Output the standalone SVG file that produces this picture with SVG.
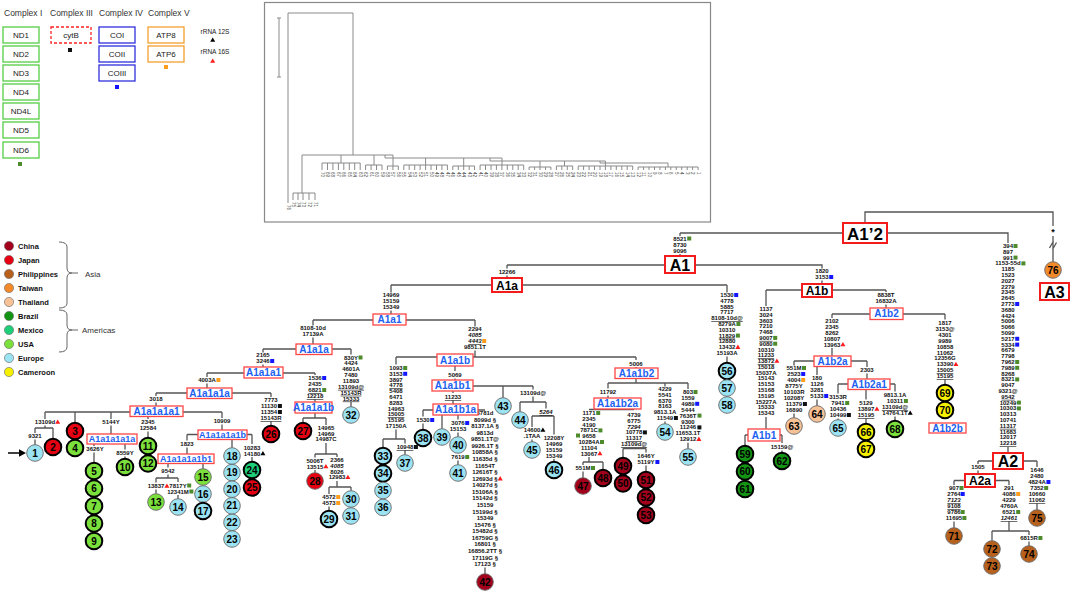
<svg xmlns="http://www.w3.org/2000/svg" width="1072" height="592" viewBox="0 0 1072 592">
<defs>
<style>
.ln{stroke:#555;stroke-width:1.3;fill:none}
.il{stroke:#8a8a8a;stroke-width:1;fill:none}
.m{font-family:"Liberation Sans",Arial,sans-serif;font-size:6px;font-weight:bold;fill:#111;text-anchor:middle}
.u{text-decoration:underline}
.i{font-style:italic}
.lb{fill:#fff;stroke:#ff4646;stroke-width:1.3}
.lt{font-family:"Liberation Sans",Arial,sans-serif;font-weight:bold;font-size:10px;fill:#2060f0;text-anchor:middle}
.lt9{font-family:"Liberation Sans",Arial,sans-serif;font-weight:bold;font-size:9px;fill:#2060f0;text-anchor:middle}
.hb{fill:#fff;stroke:#f21c1c;stroke-width:2}
.ht{font-family:"Liberation Sans",Arial,sans-serif;font-weight:bold;fill:#000;text-anchor:middle}
.c{stroke:#666;stroke-width:0.9}
.k{stroke:#000;stroke-width:2}
.cn{font-family:"Liberation Sans",Arial,sans-serif;font-weight:bold;font-size:10px;fill:#000;text-anchor:middle}
.lg{font-family:"Liberation Sans",Arial,sans-serif;font-size:8.5px;fill:#333}
.gb{font-family:"Liberation Sans",Arial,sans-serif;font-size:8px;fill:#222;text-anchor:middle}
.ct{font-family:"Liberation Sans",Arial,sans-serif;font-weight:bold;font-size:7.5px;fill:#111}
.ix{font-family:"Liberation Sans",Arial,sans-serif;font-size:4.5px;fill:#444}
.CN{fill:#a3001b}.JP{fill:#e60012}.PH{fill:#b8611c}.TW{fill:#f28a2a}.TH{fill:#f7c196}
.BR{fill:#149414}.MX{fill:#1ecf7a}.US{fill:#7ce03c}.EU{fill:#9be3f2}.CM{fill:#f5f000}
</style>
<rect id="q" width="4" height="4"/>
<path id="t" d="M0,-2.6L2.5,1.7H-2.5Z"/>
</defs>
<rect width="1072" height="592" fill="#fff"/>

<!-- legend: complexes -->
<g id="legend-complex">
<text class="lg" x="4" y="16">Complex I</text>
<text class="lg" x="50" y="16">Complex III</text>
<text class="lg" x="99" y="16">Complex IV</text>
<text class="lg" x="148" y="16">Complex V</text>
<g fill="#fff" stroke="#55cc44" stroke-width="1.3">
<rect x="3" y="27" width="36" height="16"/><rect x="3" y="46" width="36" height="16"/><rect x="3" y="65" width="36" height="16"/>
<rect x="3" y="84" width="36" height="16"/><rect x="3" y="103" width="36" height="16"/><rect x="3" y="122" width="36" height="16"/><rect x="3" y="142" width="36" height="16"/>
</g>
<text class="gb" x="21" y="38">ND1</text><text class="gb" x="21" y="57">ND2</text><text class="gb" x="21" y="76">ND3</text>
<text class="gb" x="21" y="95">ND4</text><text class="gb" x="21" y="114">ND4L</text><text class="gb" x="21" y="133">ND5</text><text class="gb" x="21" y="153">ND6</text>
<use href="#q" x="18" y="162" fill="#4f8a2b"/>
<rect x="51" y="27" width="40" height="16" fill="#fff" stroke="#f22" stroke-width="1.3" stroke-dasharray="3,2"/>
<text class="gb" x="71" y="38">cytB</text>
<use href="#q" x="68" y="48" fill="#111"/>
<g fill="#fff" stroke="#3030dd" stroke-width="1.3">
<rect x="99" y="27" width="36" height="16"/><rect x="99" y="46" width="36" height="16"/><rect x="99" y="65" width="36" height="16"/>
</g>
<text class="gb" x="117" y="38">COI</text><text class="gb" x="117" y="57">COII</text><text class="gb" x="117" y="76">COIII</text>
<use href="#q" x="115" y="85" fill="#1515ff"/>
<g fill="#fff" stroke="#f5a030" stroke-width="1.3">
<rect x="148" y="27" width="36" height="16"/><rect x="148" y="46" width="36" height="16"/>
</g>
<text class="gb" x="166" y="38">ATP8</text><text class="gb" x="166" y="57">ATP6</text>
<use href="#q" x="164" y="65" fill="#ff9d1c"/>
<text class="gb" x="215" y="34" style="font-size:6.5px">rRNA 12S</text>
<use href="#t" x="212.7" y="40" fill="#000"/>
<text class="gb" x="215" y="54" style="font-size:6.5px">rRNA 16S</text>
<use href="#t" x="212.7" y="61" fill="#ff1a1a"/>
</g>

<!-- legend: countries -->
<g id="legend-country">
<g stroke="#666" stroke-width="0.6">
<circle cx="9" cy="246" r="4.6" class="CN"/><circle cx="9" cy="260" r="4.6" class="JP"/><circle cx="9" cy="274" r="4.6" class="PH"/>
<circle cx="9" cy="288" r="4.6" class="TW"/><circle cx="9" cy="302" r="4.6" class="TH"/><circle cx="9" cy="316" r="4.6" class="BR"/>
<circle cx="9" cy="330" r="4.6" class="MX"/><circle cx="9" cy="344" r="4.6" class="US"/><circle cx="9" cy="358" r="4.6" class="EU"/>
<circle cx="9" cy="372" r="4.6" class="CM"/>
</g>
<text class="ct" x="18" y="248.7">China</text><text class="ct" x="18" y="262.7">Japan</text><text class="ct" x="18" y="276.7">Philippines</text>
<text class="ct" x="18" y="290.7">Taiwan</text><text class="ct" x="18" y="304.7">Thailand</text><text class="ct" x="18" y="318.7">Brazil</text>
<text class="ct" x="18" y="332.7">Mexico</text><text class="ct" x="18" y="346.7">USA</text><text class="ct" x="18" y="360.7">Europe</text>
<text class="ct" x="18" y="374.7">Cameroon</text>
<path d="M59,242Q67,242 67,247V268Q67,273 72,273Q67,273 67,278V303Q67,308 59,308M72,273H78" fill="none" stroke="#555" stroke-width="0.9"/>
<path d="M59,310Q67,310 67,315V325Q67,330 72,330Q67,330 67,335V347Q67,352 59,352M72,330H78" fill="none" stroke="#555" stroke-width="0.9"/>
<text class="lg" x="85" y="277" style="font-size:8px">Asia</text>
<text class="lg" x="82" y="333" style="font-size:8px">Americas</text>
</g>

<!-- inset tree -->
<g id="inset">
<rect x="264.5" y="2.5" width="446" height="219.5" fill="#fff" stroke="#888" stroke-width="1.2"/>
<path class="il" d="M279,18V77M277,18H281M277,77H281"/>
<path class="il" d="M288,203V13H353V155M302,155V193M293,193H315M293,193V200M298,193V200M303,193V200M309,193V200M315,193V200"/>
<path class="il" d="M302,155H393M385,155V158H502M490,158V161H605.4M600,161V163H668
M341,155V163M322,163H360.2M322,163V170M327.5,163V170M332.9,163V170M338.4,163V170M343.8,163V170M349.3,163V170M354.7,163V170M360.2,163V170
M374,155V165M365.6,165H382M365.6,165V170M371.1,165V170M376.5,165V170M382,165V170
M393,155V166M387.4,166H398.3M387.4,166V170M392.9,166V170M398.3,166V170
M425.6,158V165M403.8,165H447.4M403.8,165V170M409.2,165V170M414.7,165V170M420.1,165V170M425.6,165V170M431,165V170M436.5,165V170M441.9,165V170M447.4,165V170
M463.7,158V166M452.8,166H474.6M452.8,166V170M458.3,166V170M463.7,166V170M469.2,166V170M474.6,166V170
M502,158V165M480.1,165H523.7M480.1,165V170M485.5,165V170M491,165V170M496.4,165V170M501.9,165V170M507.3,165V170M512.8,165V170M518.2,165V170M523.7,165V170
M540,161V167M529.1,167H550.9M529.1,167V170M534.6,167V170M540,167V170M545.5,167V170M550.9,167V170
M564.5,161V166M556.4,166H572.7M556.4,166V170M561.8,166V170M567.3,166V170M572.7,166V170
M605.4,161V166M578.2,166H632.7M578.2,166V170M583.6,166V170M589.1,166V170M594.5,166V170M600,166V170M605.4,166V170M610.9,166V170M616.3,166V170M621.8,166V170M627.2,166V170M632.7,166V170
M668,163V167M638.1,167H698.1M638.1,167V170M643.6,167V170M649,167V170M654.5,167V170M659.9,167V170M665.4,167V170M670.8,167V170M676.3,167V170M681.7,167V170M687.2,167V170M692.6,167V170M698.1,167V170"/>
<g class="ix">
<text transform="translate(286.5,205) rotate(90)">76</text><text transform="translate(291.5,202) rotate(90)">75</text><text transform="translate(296.5,202) rotate(90)">74</text>
<text transform="translate(301.5,202) rotate(90)">73</text><text transform="translate(307.5,202) rotate(90)">72</text><text transform="translate(313.5,202) rotate(90)">71</text>
<text transform="translate(320.5,172) rotate(90)">70</text><text transform="translate(326,172) rotate(90)">69</text><text transform="translate(331.4,172) rotate(90)">68</text>
<text transform="translate(336.9,172) rotate(90)">67</text><text transform="translate(342.3,172) rotate(90)">66</text><text transform="translate(347.8,172) rotate(90)">65</text>
<text transform="translate(353.2,172) rotate(90)">64</text><text transform="translate(358.7,172) rotate(90)">63</text><text transform="translate(364.1,172) rotate(90)">62</text>
<text transform="translate(369.6,172) rotate(90)">61</text><text transform="translate(375,172) rotate(90)">60</text><text transform="translate(380.5,172) rotate(90)">59</text>
<text transform="translate(385.9,172) rotate(90)">58</text><text transform="translate(391.4,172) rotate(90)">57</text><text transform="translate(396.8,172) rotate(90)">56</text>
<text transform="translate(402.3,172) rotate(90)">55</text><text transform="translate(407.7,172) rotate(90)">54</text><text transform="translate(413.2,172) rotate(90)">53</text>
<text transform="translate(418.6,172) rotate(90)">52</text><text transform="translate(424.1,172) rotate(90)">51</text><text transform="translate(429.5,172) rotate(90)">50</text>
<text transform="translate(435,172) rotate(90)">49</text><text transform="translate(440.4,172) rotate(90)">48</text><text transform="translate(445.9,172) rotate(90)">47</text>
<text transform="translate(451.3,172) rotate(90)">46</text><text transform="translate(456.8,172) rotate(90)">45</text><text transform="translate(462.2,172) rotate(90)">44</text>
<text transform="translate(467.7,172) rotate(90)">43</text><text transform="translate(473.1,172) rotate(90)">42</text><text transform="translate(478.6,172) rotate(90)">41</text>
<text transform="translate(484,172) rotate(90)">40</text><text transform="translate(489.5,172) rotate(90)">39</text><text transform="translate(494.9,172) rotate(90)">38</text>
<text transform="translate(500.4,172) rotate(90)">37</text><text transform="translate(505.8,172) rotate(90)">36</text><text transform="translate(511.3,172) rotate(90)">35</text>
<text transform="translate(516.7,172) rotate(90)">34</text><text transform="translate(522.2,172) rotate(90)">33</text><text transform="translate(527.6,172) rotate(90)">32</text>
<text transform="translate(533.1,172) rotate(90)">31</text><text transform="translate(538.5,172) rotate(90)">30</text><text transform="translate(544,172) rotate(90)">29</text>
<text transform="translate(549.4,172) rotate(90)">28</text><text transform="translate(554.9,172) rotate(90)">27</text><text transform="translate(560.3,172) rotate(90)">26</text>
<text transform="translate(565.8,172) rotate(90)">25</text><text transform="translate(571.2,172) rotate(90)">24</text><text transform="translate(576.7,172) rotate(90)">23</text>
<text transform="translate(582.1,172) rotate(90)">22</text><text transform="translate(587.6,172) rotate(90)">21</text><text transform="translate(593,172) rotate(90)">20</text>
<text transform="translate(598.5,172) rotate(90)">19</text><text transform="translate(603.9,172) rotate(90)">18</text><text transform="translate(609.4,172) rotate(90)">17</text>
<text transform="translate(614.8,172) rotate(90)">16</text><text transform="translate(620.3,172) rotate(90)">15</text><text transform="translate(625.7,172) rotate(90)">14</text>
<text transform="translate(631.2,172) rotate(90)">13</text><text transform="translate(636.6,172) rotate(90)">12</text><text transform="translate(642.1,172) rotate(90)">11</text>
<text transform="translate(647.5,172) rotate(90)">10</text><text transform="translate(653,172) rotate(90)">9</text><text transform="translate(658.4,172) rotate(90)">8</text>
<text transform="translate(663.9,172) rotate(90)">7</text><text transform="translate(669.3,172) rotate(90)">6</text><text transform="translate(674.8,172) rotate(90)">5</text>
<text transform="translate(680.2,172) rotate(90)">4</text><text transform="translate(685.7,172) rotate(90)">3</text><text transform="translate(691.1,172) rotate(90)">2</text>
<text transform="translate(696.6,172) rotate(90)">1</text>
</g>
</g>

<!-- connectors -->
<g id="connectors" class="ln">
<path d="M865,223V212H1053V226M1053,236V261.7M1049.5,248L1053.5,241M1052.5,249.5L1056.5,242.5"/>
<path d="M680,233H843M887,233H1008V243M1008,447V453M680,233V236M680,254V256"/>
<path d="M507,265H665M507,265V268.5M507,275.5V278M695,265H822V268.5M822,280.5V284"/>
<path d="M766,290H886M766,290V306M766,417V429M886,290V292M886,304.5V308"/>
<path d="M832,314H945M832,314V318M832,348V356M945,314V319.5M945,379.5V384.7"/>
<path d="M794,361H867M794,361V365.5M794,413.5V417.7M817,366V375M817,399.5V405.7M867,361V367M867,373.5V379"/>
<path d="M838,384H895M838,384V393.5M838,418.5V419.7M866,389V399.5M866,418.5V423.7M895,384V391.5M895,416.5V420.7"/>
<path d="M745,435H782M745,435V445.7M782,435V443M782,450.5V452.7"/>
<path d="M978,461H1037M978,461V464M978,470.5V474M954,480.5H1009M954,480.5V485M954,521.5V527.7M1009,480.5V485M1009,521.5V531M992,531H1029M992,531V540.7M1029,531V535M1029,541.5V545.7M1037,461V467M1037,503.5V509.7"/>
<path d="M391,285H727M391,285V292.5M391,310.5V314M727,285V292.5M727,356.5V362.7"/>
<path d="M313,320H475M313,320V325.5M313,337.5V344M475,320V326.5M475,350.5V357"/>
<path d="M263,349H351M263,349V352.5M263,364.5V367M351,349V354.5M351,402V406.7"/>
<path d="M207,373H315M207,373V377M207,383.5V388M315,373V375M315,399.5V402"/>
<path d="M156,393H271M156,393V396M156,402.5V406M271,393V397M271,421.5V425.7"/>
<path d="M45,412H222M45,412V419M45,425.5V428M35,428H53M35,428V433M35,439.5V444.7M53,428V438.7M75,412V422.7M111,412V419M111,425.5V434M94,439H125M94,444V446M94,452.5V462.7M125,444V449.5M125,456.5V458.7M148,412V419M148,431.5V437.7M222,412V418M222,424.5V430"/>
<path d="M187,434.5H252M187,434.5V440.5M187,447.5V454M232,439V447.7M252,434.5V444M252,457V461.7"/>
<path d="M168,463V467.5M168,474.5V478M156,478H178M156,478V482.5M156,489.5V493.7M178,478V482M178,495V498.7M203,463V468.7"/>
<path d="M315,413V418M303,418H326M303,418V422.7M326,418V425M326,443V454M315,454H337M315,454V457.5M315,470V472.7M337,454V457M337,481V487M329,487H351M329,487V494M329,506.5V510.7M351,487V490.7"/>
<path d="M396,357H636M396,357V364.5M396,429.5V439M383,439H405M383,439V447.7M405,439V443.5M405,450.5V454.7M455,366V371M455,378.5V380M453,386H533M453,391V393M453,400.5V404M503,386V397.7M533,386V389.5M533,396.5V402M520,402H546M520,402V411.7M546,402V408.5M532,416H554M532,416V427M532,439.5V441.7M554,416V434.5M554,459V461.7"/>
<path d="M423,410H485M423,410V416.5M423,423.5V429.7M442,415V428.7M458,415V419.5M458,432.5V436.7M458,460.5V464.7M485,567.5V573.7"/>
<path d="M636,357V360M636,367V368M636,378V383M608,383H688M608,383V388.5M608,395.5V398M589,409.5H634M589,457V462M583,462H603M583,462V465M583,471.5V477.7M603,462V469.7M623,448.5H646M623,448.5V457.7M646,448.5V452.5M646,465.5V471.7M665,383V386.5M665,421.5V423.7M688,383V389M688,442.7V448.7"/>
<path d="M8,453H20" stroke="#000" stroke-width="1.5"/>
<path d="M26,453L19,449.3V456.7Z" fill="#000" stroke="none"/>
</g>

<!-- mutations -->
<g id="mutations">
<text class="m"><tspan x="680" y="240.5">8521</tspan><tspan x="680" y="246.5">8730</tspan><tspan x="680" y="252.5">9096</tspan></text>
<text class="m" x="507" y="274">12266</text>
<text class="m"><tspan x="822" y="273">1820</tspan><tspan x="822" y="279">3153</tspan></text>
<text class="m"><tspan x="766" y="311">1137</tspan><tspan x="766" y="316.8">3024</tspan><tspan x="766" y="322.6">3603</tspan><tspan x="766" y="328.3">7210</tspan><tspan x="766" y="334.1">7468</tspan><tspan x="766" y="339.9" class="u">9007</tspan><tspan x="766" y="345.7">9080</tspan><tspan x="766" y="351.5">10310</tspan><tspan x="766" y="357.2" class="u">11233</tspan><tspan x="766" y="363" class="u">13872</tspan><tspan x="766" y="368.8">15018</tspan><tspan x="766" y="374.6">15037A</tspan><tspan x="766" y="380.4">15143</tspan><tspan x="766" y="386.1">15153</tspan><tspan x="766" y="391.9">15168</tspan><tspan x="766" y="397.7">15195</tspan><tspan x="766" y="403.5">15227A</tspan><tspan x="766" y="409.3">15333</tspan><tspan x="766" y="415">15343</tspan></text>
<text class="m"><tspan x="886" y="297">8838T</tspan><tspan x="886" y="303">16832A</tspan></text>
<text class="m"><tspan x="832" y="322.5">2102</tspan><tspan x="832" y="328.5">2345</tspan><tspan x="832" y="334.5">8262</tspan><tspan x="832" y="340.5">10807</tspan><tspan x="832" y="346.5">13963</tspan></text>
<text class="m"><tspan x="794" y="370">551M</tspan><tspan x="794" y="376">2523</tspan><tspan x="794" y="382">4004</tspan><tspan x="794" y="388">8775Y</tspan><tspan x="794" y="394">10103R</tspan><tspan x="794" y="400">10208Y</tspan><tspan x="794" y="406">11379</tspan><tspan x="794" y="412">16890</tspan></text>
<text class="m"><tspan x="817" y="380">180</tspan><tspan x="817" y="386">1126</tspan><tspan x="817" y="392">3281</tspan><tspan x="817" y="398">5133</tspan></text>
<text class="m" x="867" y="372">2303</text>
<text class="m"><tspan x="838" y="399">3153R</tspan><tspan x="838" y="405">7941</tspan><tspan x="838" y="411">10436</tspan><tspan x="838" y="417">10499</tspan></text>
<text class="m"><tspan x="866" y="405">5129</tspan><tspan x="866" y="411">13897</tspan><tspan x="866" y="417" class="u">15195</tspan></text>
<text class="m"><tspan x="895" y="397">9813.1A</tspan><tspan x="895" y="403">10311</tspan><tspan x="895" y="409" class="u">13109d@</tspan><tspan x="895" y="415">14764.1T</tspan></text>
<text class="m"><tspan x="945" y="325">1817</tspan><tspan x="945" y="330.9">3153@</tspan><tspan x="945" y="336.8">4301</tspan><tspan x="945" y="342.7">9989</tspan><tspan x="945" y="348.6">10858</tspan><tspan x="945" y="354.5">11062</tspan><tspan x="945" y="360.4">12356G</tspan><tspan x="945" y="366.3">13390</tspan><tspan x="945" y="372.2" class="u">15005</tspan><tspan x="945" y="378.1" class="u">15195</tspan></text>
<text class="m"><tspan x="1008" y="248">394</tspan><tspan x="1008" y="253.8">897</tspan><tspan x="1008" y="259.6">991</tspan><tspan x="1008" y="265.4">1153-55d</tspan><tspan x="1008" y="271.2">1185</tspan><tspan x="1008" y="277">1523</tspan><tspan x="1008" y="282.8">2027</tspan><tspan x="1008" y="288.6">2279</tspan><tspan x="1008" y="294.4">2345</tspan><tspan x="1008" y="300.2">2645</tspan><tspan x="1008" y="306">2773</tspan><tspan x="1008" y="311.8">3680</tspan><tspan x="1008" y="317.6">4424</tspan><tspan x="1008" y="323.4">5006</tspan><tspan x="1008" y="329.2">5066</tspan><tspan x="1008" y="335">5099</tspan><tspan x="1008" y="340.8">5217</tspan><tspan x="1008" y="346.6">5334</tspan><tspan x="1008" y="352.4">6679</tspan><tspan x="1008" y="358.2">7798</tspan><tspan x="1008" y="364">7962</tspan><tspan x="1008" y="369.8">7989</tspan><tspan x="1008" y="375.6">8268</tspan><tspan x="1008" y="381.4">8321</tspan><tspan x="1008" y="387.2">9047</tspan><tspan x="1008" y="393">9321@</tspan><tspan x="1008" y="398.8" class="u">9542</tspan><tspan x="1008" y="404.6">10249</tspan><tspan x="1008" y="410.4">10303</tspan><tspan x="1008" y="416.2">10313</tspan><tspan x="1008" y="422">10741</tspan><tspan x="1008" y="427.8" class="u">11317</tspan><tspan x="1008" y="433.6">11683</tspan><tspan x="1008" y="439.4">12017</tspan><tspan x="1008" y="445.2" class="u">12218</tspan></text>
<text class="m" x="978" y="469">1505</text>
<text class="m"><tspan x="954" y="490">907</tspan><tspan x="954" y="496">2764</tspan><tspan x="954" y="502" class="i u">7123</tspan><tspan x="954" y="508" class="u">9108</tspan><tspan x="954" y="514">9786</tspan><tspan x="954" y="520">11695</tspan></text>
<text class="m"><tspan x="1009" y="490">291</tspan><tspan x="1009" y="496">4086</tspan><tspan x="1009" y="502">4229</tspan><tspan x="1009" y="508">4760A</tspan><tspan x="1009" y="514">6521</tspan><tspan x="1009" y="520" class="i u">12461</tspan></text>
<text class="m" x="1029" y="540">6815R</text>
<text class="m"><tspan x="1037" y="472">1646</tspan><tspan x="1037" y="478">2480</tspan><tspan x="1037" y="484">4824A</tspan><tspan x="1037" y="490">7352</tspan><tspan x="1037" y="496">10660</tspan><tspan x="1037" y="502" class="u">11062</tspan></text>
<text class="m" x="782" y="449">15159@</text>
<text class="m"><tspan x="391" y="297">14969</tspan><tspan x="391" y="303">15159</tspan><tspan x="391" y="309">15349</tspan></text>
<text class="m"><tspan x="727" y="297">1530</tspan><tspan x="727" y="302.8">4778</tspan><tspan x="727" y="308.6">5885</tspan><tspan x="727" y="314.4">7717</tspan><tspan x="727" y="320.2" class="u">8108-10d@</tspan><tspan x="727" y="326">8279A</tspan><tspan x="727" y="331.8">10310</tspan><tspan x="727" y="337.6" class="u">11829</tspan><tspan x="727" y="343.4">12880</tspan><tspan x="727" y="349.2">13432</tspan><tspan x="727" y="355">15193A</tspan></text>
<text class="m"><tspan x="313" y="330">8108-10d</tspan><tspan x="313" y="336">17139A</tspan></text>
<text class="m"><tspan x="475" y="331">2294</tspan><tspan x="475" y="337" class="i">4085</tspan><tspan x="475" y="343" class="i u">4443</tspan><tspan x="475" y="349">9851.1T</tspan></text>
<text class="m"><tspan x="263" y="357">2165</tspan><tspan x="263" y="363">3246</tspan></text>
<text class="m"><tspan x="351" y="359.5">830Y</tspan><tspan x="351" y="365.4">4424</tspan><tspan x="351" y="371.2">4601A</tspan><tspan x="351" y="377.1">7480</tspan><tspan x="351" y="382.9">11893</tspan><tspan x="351" y="388.8" class="u">13109d@</tspan><tspan x="351" y="394.7" class="u">15143R</tspan><tspan x="351" y="400.5" class="u">15333</tspan></text>
<text class="m" x="207" y="382">4003A</text>
<text class="m"><tspan x="315" y="380">1536</tspan><tspan x="315" y="386">2435</tspan><tspan x="315" y="392" class="u">6821</tspan><tspan x="315" y="398" class="u">12218</tspan></text>
<text class="m"><tspan x="271" y="402">7773</tspan><tspan x="269" y="408">11130</tspan><tspan x="269" y="414">11354</tspan><tspan x="271" y="420" class="u">15143R</tspan></text>
<text class="m" x="156" y="401">3018</text>
<text class="m" x="45" y="424">13109d</text>
<text class="m" x="35" y="438">9321</text>
<text class="m" x="111" y="424">5144Y</text>
<text class="m" x="95" y="451">3626Y</text>
<text class="m" x="125" y="455">8559Y</text>
<text class="m"><tspan x="148" y="424">2345</tspan><tspan x="148" y="430">12584</tspan></text>
<text class="m" x="222" y="423">10909</text>
<text class="m" x="187" y="446">1823</text>
<text class="m"><tspan x="252" y="449.5">10283</tspan><tspan x="252" y="455.5">14180</tspan></text>
<text class="m" x="168" y="473">9542</text>
<text class="m" x="156" y="488">13837</text>
<text class="m"><tspan x="178" y="487.5">7817Y</tspan><tspan x="178" y="493.5">12341M</tspan></text>
<text class="m"><tspan x="326" y="430">14965</tspan><tspan x="326" y="435.7">14969</tspan><tspan x="326" y="441.4">14987C</tspan></text>
<text class="m"><tspan x="315" y="462.5">5006T</tspan><tspan x="315" y="468.5">13515</tspan></text>
<text class="m"><tspan x="337" y="462">2366</tspan><tspan x="337" y="467.8" class="i">4085</tspan><tspan x="337" y="473.6">8026</tspan><tspan x="337" y="479.4">12983</tspan></text>
<text class="m"><tspan x="329" y="499">4572</tspan><tspan x="329" y="505">4573</tspan></text>
<text class="m"><tspan x="396" y="370">1093</tspan><tspan x="396" y="375.8">3153</tspan><tspan x="396" y="381.6">3897</tspan><tspan x="396" y="387.4" class="u">4778</tspan><tspan x="396" y="393.2">5408</tspan><tspan x="396" y="399">6471</tspan><tspan x="396" y="404.8">8283</tspan><tspan x="396" y="410.6">14963</tspan><tspan x="396" y="416.4" class="u">15005</tspan><tspan x="396" y="422.2">15195</tspan><tspan x="396" y="428">17150A</tspan></text>
<text class="m u" x="405" y="449">10948</text>
<text class="m" x="455" y="377">5069</text>
<text class="m u" x="453" y="399">11233</text>
<text class="m" x="533" y="395">13109d@</text>
<text class="m i u" x="546" y="414">5264</text>
<text class="m"><tspan x="532" y="432">14600</tspan><tspan x="532" y="438">.1TAA</tspan></text>
<text class="m"><tspan x="554" y="439.5">12208Y</tspan><tspan x="554" y="445.5">14969</tspan><tspan x="554" y="451.5">15159</tspan><tspan x="554" y="457.5">15349</tspan></text>
<text class="m" x="423" y="422">1530</text>
<text class="m"><tspan x="458" y="425">3076</tspan><tspan x="458" y="431">15153</tspan><tspan x="458" y="459">7619</tspan></text>
<text class="m"><tspan x="485" y="415">3781d</tspan><tspan x="485" y="421.6">8099d §</tspan><tspan x="485" y="428.1">8137.1A §</tspan><tspan x="485" y="434.7">9813d</tspan><tspan x="485" y="441.3">9851.1T@</tspan><tspan x="485" y="447.9">9926.1T §</tspan><tspan x="485" y="454.4">10858A §</tspan><tspan x="485" y="461">11635d §</tspan><tspan x="485" y="467.6">11654T</tspan><tspan x="485" y="474.1">12616T §</tspan><tspan x="485" y="480.7">12693d §</tspan><tspan x="485" y="487.3">14027d §</tspan><tspan x="485" y="493.8">15106A §</tspan><tspan x="485" y="500.4">15142d §</tspan><tspan x="485" y="507">15159</tspan><tspan x="485" y="513.6">15199d §</tspan><tspan x="485" y="520.1">15349</tspan><tspan x="485" y="526.7">15476 §</tspan><tspan x="485" y="533.3">15482d §</tspan><tspan x="485" y="539.8">16759G §</tspan><tspan x="485" y="546.4">16801 §</tspan><tspan x="485" y="553">16856.2TT §</tspan><tspan x="485" y="559.5">17119G §</tspan><tspan x="485" y="566.1">17123 §</tspan></text>
<text class="m" x="636" y="365.5">5006</text>
<text class="m" x="608" y="394">11792</text>
<text class="m"><tspan x="589" y="415">1171</tspan><tspan x="589" y="420.8">2345</tspan><tspan x="589" y="426.6">4190</tspan><tspan x="589" y="432.4">7871C</tspan><tspan x="589" y="438.2">9658</tspan><tspan x="589" y="444">10284A</tspan><tspan x="589" y="449.8">11104</tspan><tspan x="589" y="455.6">13067</tspan></text>
<text class="m" x="583" y="470">551M</text>
<text class="m"><tspan x="634" y="417">4739</tspan><tspan x="634" y="422.8">6775</tspan><tspan x="634" y="428.6" class="i">7294</tspan><tspan x="634" y="434.4">10778</tspan><tspan x="634" y="440.2" class="u">11317</tspan><tspan x="634" y="446" class="u">13109d@</tspan></text>
<text class="m"><tspan x="646" y="458">1646Y</tspan><tspan x="646" y="464">5119Y</tspan></text>
<text class="m"><tspan x="665" y="391">4229</tspan><tspan x="665" y="396.8">5541</tspan><tspan x="665" y="402.6">6370</tspan><tspan x="665" y="408.4">8163</tspan><tspan x="665" y="414.2">9813.1A</tspan><tspan x="665" y="420">11549</tspan></text>
<text class="m"><tspan x="688" y="394">803</tspan><tspan x="688" y="399.9">1559</tspan><tspan x="688" y="405.8">4989</tspan><tspan x="688" y="411.7">5444</tspan><tspan x="688" y="417.6">7636T</tspan><tspan x="688" y="423.5">9300</tspan><tspan x="688" y="429.4">11246</tspan><tspan x="688" y="435.3">11653.1T</tspan><tspan x="688" y="441.2">12912</tspan></text>
<text class="ht" x="1053" y="235" style="font-size:9px">*</text>
</g>

<!-- markers -->
<g id="markers">
<g fill="#4f8a2b">
<use href="#q" x="687.2" y="236.5"/><use href="#q" x="773.2" y="335.9"/><use href="#q" x="773.2" y="341.7"/><use href="#q" x="802" y="366"/>
<use href="#q" x="845.2" y="401"/><use href="#q" x="903.9" y="399"/>
<use href="#q" x="1013.5" y="244"/><use href="#q" x="1013.5" y="255.6"/><use href="#q" x="1021.4" y="261.4"/><use href="#q" x="1015.2" y="360"/><use href="#q" x="1015.2" y="365.8"/><use href="#q" x="1015.2" y="377.4"/><use href="#q" x="1016.9" y="400.6"/><use href="#q" x="1016.9" y="406.4"/>
<use href="#q" x="959.5" y="486"/><use href="#q" x="960.7" y="510"/><use href="#q" x="962.4" y="516"/><use href="#q" x="1016.2" y="510"/><use href="#q" x="1038.4" y="536"/><use href="#q" x="1044.2" y="486"/>
<use href="#q" x="736.4" y="322"/><use href="#q" x="735.9" y="333.6"/><use href="#q" x="358.5" y="355.5"/><use href="#q" x="322.2" y="388"/>
<use href="#q" x="187.2" y="483.5"/><use href="#q" x="189.4" y="489.5"/><use href="#q" x="403.2" y="366"/><use href="#q" x="465.2" y="455"/>
<use href="#q" x="596.2" y="411"/><use href="#q" x="598.4" y="428.4"/><use href="#q" x="576" y="433.5"/><use href="#q" x="600" y="440"/><use href="#q" x="591" y="466"/>
<use href="#q" x="693.5" y="390"/><use href="#q" x="697.5" y="413.6"/>
</g>
<g fill="#1515ff">
<use href="#q" x="829.2" y="275"/><use href="#q" x="801.2" y="372"/><use href="#q" x="824.2" y="394"/>
<use href="#q" x="1015.2" y="302"/><use href="#q" x="1015.2" y="336.8"/><use href="#q" x="1015.2" y="342.6"/>
<use href="#q" x="960.7" y="492"/><use href="#q" x="1046.4" y="480"/><use href="#q" x="734.2" y="293"/><use href="#q" x="270.2" y="359"/><use href="#q" x="322.2" y="376"/>
<use href="#q" x="403.2" y="371.8"/><use href="#q" x="430.2" y="418"/><use href="#q" x="465.2" y="421"/><use href="#q" x="655.4" y="460"/><use href="#q" x="695.2" y="401.8"/>
</g>
<g fill="#ff9d1c">
<use href="#q" x="801.2" y="378"/><use href="#q" x="1016.2" y="492"/><use href="#q" x="482.2" y="339"/><use href="#q" x="216.4" y="378"/>
<use href="#q" x="336.2" y="495"/><use href="#q" x="336.2" y="501"/>
</g>
<g fill="#111">
<use href="#q" x="802.9" y="402"/><use href="#q" x="846.9" y="413"/><use href="#q" x="277.9" y="404"/><use href="#q" x="277.9" y="410"/>
<use href="#q" x="413.9" y="445"/><use href="#q" x="642.9" y="430.4"/><use href="#q" x="673.9" y="416"/><use href="#q" x="697.4" y="425.4"/>
</g>
<g fill="#ff1a1a">
<use href="#t" x="776.9" y="361"/><use href="#t" x="842.9" y="344.5"/><use href="#t" x="876.9" y="409"/><use href="#t" x="955.9" y="364.3"/>
<use href="#t" x="737.9" y="347.2"/><use href="#t" x="57.7" y="422"/><use href="#t" x="166.9" y="486"/><use href="#t" x="325.9" y="466.5"/>
<use href="#t" x="347.9" y="477.4"/><use href="#t" x="500.2" y="478.7"/><use href="#t" x="599.9" y="453.6"/><use href="#t" x="698.9" y="439.2"/>
</g>
<g fill="#000">
<use href="#t" x="910.2" y="413"/><use href="#t" x="262.9" y="453.5"/><use href="#t" x="542.9" y="430"/>
</g>
</g>

<!-- haplogroup nodes -->
<g id="A1-2"><rect class="hb" x="843" y="223" width="44" height="20"/><text class="ht" x="865" y="239.5" style="font-size:17px">A1’2</text></g>
<g id="A1"><rect class="hb" x="665" y="256" width="30" height="17"/><text class="ht" x="680" y="270.5" style="font-size:16px">A1</text></g>
<g id="A1a"><rect class="hb" x="492" y="278" width="30" height="14"/><text class="ht" x="507" y="289.5" style="font-size:12px">A1a</text></g>
<g id="A1b"><rect class="hb" x="802" y="284" width="30" height="13"/><text class="ht" x="817" y="294.8" style="font-size:12px">A1b</text></g>
<g id="A2"><rect class="hb" x="993" y="453" width="30" height="16"/><text class="ht" x="1008" y="467" style="font-size:16px">A2</text></g>
<g id="A2a"><rect class="hb" x="965" y="474" width="30" height="13"/><text class="ht" x="980" y="484.8" style="font-size:12px">A2a</text></g>
<g id="A3"><rect class="hb" x="1040" y="283" width="29" height="17"/><text class="ht" x="1054.5" y="297.5" style="font-size:16px">A3</text></g>

<g id="A1a1"><rect class="lb" x="373" y="314" width="33" height="11"/><text class="lt" x="389.5" y="323">A1a1</text></g>
<g id="A1a1a"><rect class="lb" x="296" y="344" width="36" height="10.5"/><text class="lt" x="314" y="352.8">A1a1a</text></g>
<g id="A1a1a1"><rect class="lb" x="244" y="367" width="39" height="11"/><text class="lt" x="263.5" y="376">A1a1a1</text></g>
<g id="A1a1a1a"><rect class="lb" x="187" y="388" width="45" height="10.5"/><text class="lt" x="209.5" y="396.8">A1a1a1a</text></g>
<g id="A1a1a1a1"><rect class="lb" x="130" y="406" width="53" height="10.5"/><text class="lt" x="156.5" y="414.8">A1a1a1a1</text></g>
<g id="A1a1a1a1a"><rect class="lb" x="87" y="434" width="50" height="10"/><text class="lt9" x="112" y="442.2">A1a1a1a1a</text></g>
<g id="A1a1a1a1b"><rect class="lb" x="198" y="430" width="49" height="9.5"/><text class="lt9" x="222.5" y="437.9">A1a1a1a1b</text></g>
<g id="A1a1a1a1b1"><rect class="lb" x="158" y="454" width="56" height="9.5"/><text class="lt9" x="186" y="461.9">A1a1a1a1b1</text></g>
<g id="A1a1a1b"><rect class="lb" x="295" y="402" width="37" height="11"/><text class="lt" x="313.5" y="411">A1a1a1b</text></g>
<g id="A1a1b"><rect class="lb" x="437" y="354" width="36" height="12"/><text class="lt" x="455" y="363.6">A1a1b</text></g>
<g id="A1a1b1"><rect class="lb" x="432" y="380" width="41" height="11"/><text class="lt" x="452.5" y="389">A1a1b1</text></g>
<g id="A1a1b1a"><rect class="lb" x="433" y="404" width="45" height="11"/><text class="lt" x="455.5" y="413">A1a1b1a</text></g>
<g id="A1a1b2"><rect class="lb" x="615" y="368" width="43" height="10.5"/><text class="lt" x="636.5" y="376.8">A1a1b2</text></g>
<g id="A1a1b2a"><rect class="lb" x="594" y="398" width="47" height="11"/><text class="lt" x="617.5" y="407">A1a1b2a</text></g>
<g id="A1b1"><rect class="lb" x="748" y="429" width="32" height="12"/><text class="lt" x="764" y="438.6">A1b1</text></g>
<g id="A1b2"><rect class="lb" x="870" y="308" width="33" height="11.5"/><text class="lt" x="886.5" y="317.3">A1b2</text></g>
<g id="A1b2a"><rect class="lb" x="814" y="356" width="37" height="10.5"/><text class="lt" x="832.5" y="364.8">A1b2a</text></g>
<g id="A1b2a1"><rect class="lb" x="848" y="379" width="42" height="10.5"/><text class="lt" x="869" y="387.8">A1b2a1</text></g>
<g id="A1b2b"><rect class="lb" x="929" y="423" width="37" height="10"/><text class="lt" x="947.5" y="431.5">A1b2b</text></g>

<!-- sample circles -->
<g id="samples">
<g id="s1"><circle cx="35" cy="453" r="8.3" class="EU c"/><text class="cn" x="35" y="456.6">1</text></g>
<g id="s2"><circle cx="53" cy="447" r="8.3" class="JP k"/><text class="cn" x="53" y="450.6">2</text></g>
<g id="s3"><circle cx="75" cy="431" r="8.3" class="JP k"/><text class="cn" x="75" y="434.6">3</text></g>
<g id="s4"><circle cx="75" cy="448" r="8.3" class="US k"/><text class="cn" x="75" y="451.6">4</text></g>
<g id="s5"><circle cx="94" cy="471" r="8.3" class="US k"/><text class="cn" x="94" y="474.6">5</text></g>
<g id="s6"><circle cx="94" cy="488.5" r="8.3" class="US k"/><text class="cn" x="94" y="492.1">6</text></g>
<g id="s7"><circle cx="94" cy="506" r="8.3" class="US k"/><text class="cn" x="94" y="509.6">7</text></g>
<g id="s8"><circle cx="94" cy="523.5" r="8.3" class="US k"/><text class="cn" x="94" y="527.1">8</text></g>
<g id="s9"><circle cx="94" cy="541" r="8.3" class="US k"/><text class="cn" x="94" y="544.6">9</text></g>
<g id="s10"><circle cx="125" cy="467" r="8.3" class="US k"/><text class="cn" x="125" y="470.6">10</text></g>
<g id="s11"><circle cx="148" cy="446" r="8.3" class="US k"/><text class="cn" x="148" y="449.6">11</text></g>
<g id="s12"><circle cx="148" cy="463.5" r="8.3" class="US k"/><text class="cn" x="148" y="467.1">12</text></g>
<g id="s13"><circle cx="156" cy="502" r="8.3" class="US c"/><text class="cn" x="156" y="505.6">13</text></g>
<g id="s14"><circle cx="178" cy="507" r="8.3" class="EU c"/><text class="cn" x="178" y="510.6">14</text></g>
<g id="s15"><circle cx="203" cy="477" r="8.3" class="US c"/><text class="cn" x="203" y="480.6">15</text></g>
<g id="s16"><circle cx="203" cy="494" r="8.3" class="EU c"/><text class="cn" x="203" y="497.6">16</text></g>
<g id="s17"><circle cx="203" cy="511" r="8.3" class="EU k"/><text class="cn" x="203" y="514.6">17</text></g>
<g id="s18"><circle cx="232" cy="456" r="8.3" class="EU c"/><text class="cn" x="232" y="459.6">18</text></g>
<g id="s19"><circle cx="232" cy="472.6" r="8.3" class="EU c"/><text class="cn" x="232" y="476.2">19</text></g>
<g id="s20"><circle cx="232" cy="489.2" r="8.3" class="EU c"/><text class="cn" x="232" y="492.8">20</text></g>
<g id="s21"><circle cx="232" cy="505.8" r="8.3" class="EU c"/><text class="cn" x="232" y="509.4">21</text></g>
<g id="s22"><circle cx="232" cy="522.4" r="8.3" class="EU c"/><text class="cn" x="232" y="526">22</text></g>
<g id="s23"><circle cx="232" cy="539" r="8.3" class="EU c"/><text class="cn" x="232" y="542.6">23</text></g>
<g id="s24"><circle cx="252" cy="470" r="8.3" class="MX k"/><text class="cn" x="252" y="473.6">24</text></g>
<g id="s25"><circle cx="252" cy="487.5" r="8.3" class="JP k"/><text class="cn" x="252" y="491.1">25</text></g>
<g id="s26"><circle cx="271" cy="434" r="8.3" class="JP k"/><text class="cn" x="271" y="437.6">26</text></g>
<g id="s27"><circle cx="303" cy="431" r="8.3" class="JP k"/><text class="cn" x="303" y="434.6">27</text></g>
<g id="s28"><circle cx="315" cy="481" r="8.3" class="JP c"/><text class="cn" x="315" y="484.6">28</text></g>
<g id="s29"><circle cx="329" cy="519" r="8.3" class="EU k"/><text class="cn" x="329" y="522.6">29</text></g>
<g id="s30"><circle cx="351" cy="499" r="8.3" class="EU c"/><text class="cn" x="351" y="502.6">30</text></g>
<g id="s31"><circle cx="351" cy="516" r="8.3" class="EU c"/><text class="cn" x="351" y="519.6">31</text></g>
<g id="s32"><circle cx="351" cy="415" r="8.3" class="EU c"/><text class="cn" x="351" y="418.6">32</text></g>
<g id="s33"><circle cx="383" cy="456" r="8.3" class="EU k"/><text class="cn" x="383" y="459.6">33</text></g>
<g id="s34"><circle cx="383" cy="473.5" r="8.3" class="EU k"/><text class="cn" x="383" y="477.1">34</text></g>
<g id="s35"><circle cx="383" cy="490.5" r="8.3" class="EU c"/><text class="cn" x="383" y="494.1">35</text></g>
<g id="s36"><circle cx="383" cy="507.5" r="8.3" class="EU c"/><text class="cn" x="383" y="511.1">36</text></g>
<g id="s37"><circle cx="405" cy="463" r="8.3" class="EU c"/><text class="cn" x="405" y="466.6">37</text></g>
<g id="s38"><circle cx="423" cy="438" r="8.3" class="EU k"/><text class="cn" x="423" y="441.6">38</text></g>
<g id="s39"><circle cx="442" cy="437" r="8.3" class="EU c"/><text class="cn" x="442" y="440.6">39</text></g>
<g id="s40"><circle cx="458" cy="445" r="8.3" class="EU c"/><text class="cn" x="458" y="448.6">40</text></g>
<g id="s41"><circle cx="458" cy="473" r="8.3" class="EU c"/><text class="cn" x="458" y="476.6">41</text></g>
<g id="s42"><circle cx="485" cy="582" r="8.3" class="CN c"/><text class="cn" x="485" y="585.6">42</text></g>
<g id="s43"><circle cx="503" cy="406" r="8.3" class="EU c"/><text class="cn" x="503" y="409.6">43</text></g>
<g id="s44"><circle cx="520" cy="420" r="8.3" class="EU c"/><text class="cn" x="520" y="423.6">44</text></g>
<g id="s45"><circle cx="532" cy="450" r="8.3" class="EU c"/><text class="cn" x="532" y="453.6">45</text></g>
<g id="s46"><circle cx="554" cy="470" r="8.3" class="EU k"/><text class="cn" x="554" y="473.6">46</text></g>
<g id="s47"><circle cx="583" cy="486" r="8.3" class="CN c"/><text class="cn" x="583" y="489.6">47</text></g>
<g id="s48"><circle cx="603" cy="478" r="8.3" class="CN k"/><text class="cn" x="603" y="481.6">48</text></g>
<g id="s49"><circle cx="623" cy="466" r="8.3" class="CN k"/><text class="cn" x="623" y="469.6">49</text></g>
<g id="s50"><circle cx="623" cy="483.5" r="8.3" class="CN k"/><text class="cn" x="623" y="487.1">50</text></g>
<g id="s51"><circle cx="646" cy="480" r="8.3" class="CN k"/><text class="cn" x="646" y="483.6">51</text></g>
<g id="s52"><circle cx="646" cy="497.5" r="8.3" class="CN k"/><text class="cn" x="646" y="501.1">52</text></g>
<g id="s53"><circle cx="646" cy="515" r="8.3" class="CN k"/><text class="cn" x="646" y="518.6">53</text></g>
<g id="s54"><circle cx="665" cy="432" r="8.3" class="EU c"/><text class="cn" x="665" y="435.6">54</text></g>
<g id="s55"><circle cx="688" cy="457" r="8.3" class="EU c"/><text class="cn" x="688" y="460.6">55</text></g>
<g id="s56"><circle cx="727" cy="371" r="8.3" class="EU k"/><text class="cn" x="727" y="374.6">56</text></g>
<g id="s57"><circle cx="727" cy="388" r="8.3" class="EU c"/><text class="cn" x="727" y="391.6">57</text></g>
<g id="s58"><circle cx="727" cy="405" r="8.3" class="EU c"/><text class="cn" x="727" y="408.6">58</text></g>
<g id="s59"><circle cx="745" cy="454" r="8.3" class="BR k"/><text class="cn" x="745" y="457.6">59</text></g>
<g id="s60"><circle cx="745" cy="471.5" r="8.3" class="BR k"/><text class="cn" x="745" y="475.1">60</text></g>
<g id="s61"><circle cx="745" cy="489" r="8.3" class="BR k"/><text class="cn" x="745" y="492.6">61</text></g>
<g id="s62"><circle cx="782" cy="461" r="8.3" class="BR k"/><text class="cn" x="782" y="464.6">62</text></g>
<g id="s63"><circle cx="794" cy="426" r="8.3" class="TH c"/><text class="cn" x="794" y="429.6">63</text></g>
<g id="s64"><circle cx="817" cy="414" r="8.3" class="TH c"/><text class="cn" x="817" y="417.6">64</text></g>
<g id="s65"><circle cx="838" cy="428" r="8.3" class="EU c"/><text class="cn" x="838" y="431.6">65</text></g>
<g id="s66"><circle cx="866" cy="432" r="8.3" class="CM k"/><text class="cn" x="866" y="435.6">66</text></g>
<g id="s67"><circle cx="866" cy="449" r="8.3" class="CM k"/><text class="cn" x="866" y="452.6">67</text></g>
<g id="s68"><circle cx="895" cy="429" r="8.3" class="US k"/><text class="cn" x="895" y="432.6">68</text></g>
<g id="s69"><circle cx="945" cy="393" r="8.3" class="CM k"/><text class="cn" x="945" y="396.6">69</text></g>
<g id="s70"><circle cx="945" cy="410" r="8.3" class="CM k"/><text class="cn" x="945" y="413.6">70</text></g>
<g id="s71"><circle cx="954" cy="536" r="8.3" class="PH c"/><text class="cn" x="954" y="539.6">71</text></g>
<g id="s72"><circle cx="992" cy="549" r="8.3" class="PH c"/><text class="cn" x="992" y="552.6">72</text></g>
<g id="s73"><circle cx="992" cy="566" r="8.3" class="PH c"/><text class="cn" x="992" y="569.6">73</text></g>
<g id="s74"><circle cx="1029" cy="554" r="8.3" class="PH c"/><text class="cn" x="1029" y="557.6">74</text></g>
<g id="s75"><circle cx="1037" cy="518" r="8.3" class="PH c"/><text class="cn" x="1037" y="521.6">75</text></g>
<g id="s76"><circle cx="1053" cy="270" r="8.3" class="TW c"/><text class="cn" x="1053" y="273.6">76</text></g>
</g>
</svg>
